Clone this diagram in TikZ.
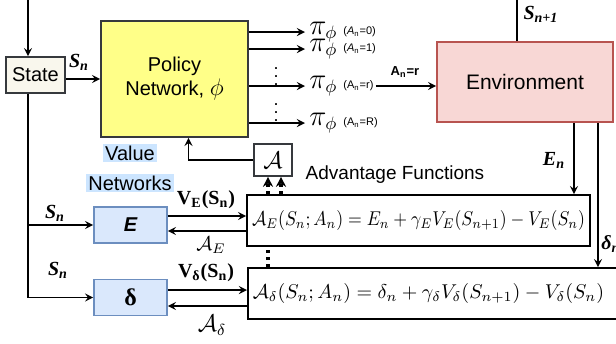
\documentclass[tikz,border=0pt]{standalone}
\usepackage{amsmath}
\usepackage{amssymb}
\usepackage{fontspec}
\setmainfont{Liberation Sans}
\newfontfamily\tms{Liberation Serif}
\usetikzlibrary{positioning}
\usetikzlibrary{arrows.meta}

\definecolor{polfill}{HTML}{FFFF88}
\definecolor{grayline}{HTML}{36393D}
\definecolor{statefill}{HTML}{F9F7ED}
\definecolor{envfill}{HTML}{F8D7D5}
\definecolor{envline}{HTML}{B85450}
\definecolor{valfill}{HTML}{DAE8FC}
\definecolor{valline}{HTML}{6C8EBF}
\definecolor{hl}{HTML}{CCE5FF}

\begin{document}
\begin{tikzpicture}[x=0.5pt,y=-0.5pt,
  box/.style={draw, line width=0.8pt, inner sep=0pt},
  eqbox/.style={draw, line width=0.8pt, fill=white, inner ysep=0pt, inner xsep=1pt, minimum height=25.5pt},
  arr/.style={-stealth, line width=0.8pt},
  dotarr/.style={-{Stealth[length=5pt,width=5pt]}, line width=1.6pt, dotted},
  lbl/.style={font=\tms\bfseries\itshape\normalsize, inner sep=1pt},
  tiny/.style={font=\fontsize{5.5}{6}\selectfont, inner sep=0pt}
]
\useasboundingbox (0,0) rectangle (616,343);

\node (S) [box, fill=statefill, draw=grayline, minimum width=29.5pt, minimum height=18pt] at (35.5,75) {State};
\node (P) [box, fill=polfill, draw=grayline, minimum width=73.5pt, minimum height=58pt, align=center, font=\fontsize{10}{12}\selectfont] at (174.5,79) {Policy\\Network, {\large$\phi$}};
\node (Env) [box, fill=envfill, draw=envline, minimum width=88pt, minimum height=40pt, font=\fontsize{10.5}{12}\selectfont] at (525,82) {Environment};
\node (A) [box, draw=grayline, minimum width=19pt, minimum height=16pt, font=\large] at (273,160) {$\mathcal{A}$};
\node (AF) [font=\fontsize{9.5}{11}\selectfont] at (395,175) {Advantage Functions};

\node (VE) [box, fill=valfill, draw=valline, minimum width=36.5pt, minimum height=18pt, font=\bfseries\itshape] at (130.5,225) {E};
\node (VD) [box, fill=valfill, draw=valline, minimum width=36.5pt, minimum height=18pt, font=\tms\bfseries\large] at (130.5,297.5) {δ};
\node (VL1) [fill=hl, inner sep=1pt] at (130,153) {Value};
\node (VL2) [fill=hl, inner sep=1pt] at (130,183) {Networks};

\node (EqE) [eqbox, minimum width=171.5pt] at (418.5,220.5)
  {\scalebox{0.885}[1]{$\mathcal{A}_E(S_n;A_n)=E_n+\gamma_E V_E(S_{n+1})-V_E(S_n)$}};
\node (EqD) [eqbox, anchor=west, inner xsep=2.5pt, text width=186.5pt, align=left] at (247,293.5)
  {$\mathcal{A}_\delta(S_n;A_n)=\delta_n+\gamma_\delta V_\delta(S_{n+1})-V_\delta(S_n)$};

% state loop
\coordinate (top) at (28,0);
\draw [arr] (top) -- (top |- S.north);
\draw [arr] (top |- S.south) |- (VD.west);
\draw [arr] (top |- VE.west) -- (VE.west);
\node [lbl] at (55,213) {S\textsubscript{n}};
\node [lbl] at (58,270) {S\textsubscript{n}};
\draw [arr] ([yshift=-2pt]S.east) -- ([yshift=-2pt]S.east -| P.west);
\node [lbl] at (79,62) {S\textsubscript{n}};

% policy outputs
\foreach \y/\n/\t in {32/0/{(\textit{A}\textsubscript{n}=0)}, 49/1/{(\textit{A}\textsubscript{n}=1)}, 86/r/{(A\textsubscript{n}=r)}, 123/R/{(A\textsubscript{n}=R)}} {
  \draw [arr] (P.east |- 0,\y) -- (305,\y);
  \node (pi\n) [anchor=west, inner sep=1pt] at (307,\y) {\Large$\pi_{\text{\fontsize{9}{9}\selectfont$\phi$}}$};
  \node (pa\n) [tiny, anchor=west] at (343,\y) {\t};
}
\node (d1) [inner sep=0pt, font=\small] at (276,71) {$\vdots$};
\node (d2) [inner sep=0pt, font=\small] at (276,107) {$\vdots$};
\draw [arr] ([xshift=1pt]par.east) -- (par.east -| Env.west);
\node [font=\bfseries\fontsize{6.5}{7}\selectfont] at (405,72) {A\textsubscript{n}=r};

% environment
\draw [line width=0.8pt] ([xshift=-4pt]Env.north) -- ([xshift=-4pt]Env.north |- top);
\node [lbl] at (541,14) {S\textsubscript{n+1}};
\draw [arr] (574,0 |- Env.south) -- (574,0 |- EqE.north);
\node [lbl] at (554,160) {E\textsubscript{n}};
\draw [arr] (598,0 |- Env.south) -- (598,0 |- EqD.north);
\node [lbl, anchor=west] at (599,244) {δ\textsubscript{n}};

% value networks
\draw [arr] ([yshift=4.5pt]VE.east) -- ([yshift=4.5pt]VE.east -| EqE.west);
\draw [arr] ([yshift=-3pt]VE.east -| EqE.west) -- ([yshift=-3pt]VE.east);
\node [font=\tms\bfseries] at (206,200) {V\textsubscript{E}(S\textsubscript{n})};
\node at (211,245) {$\mathcal{A}_E$};
\draw [arr] ([yshift=3.75pt]VD.east) -- ([yshift=3.75pt]VD.east -| EqD.west);
\draw [arr] ([yshift=-4.25pt]VD.east -| EqD.west) -- ([yshift=-4.25pt]VD.east);
\node [font=\tms\bfseries] at (206,273) {V\textsubscript{δ}(S\textsubscript{n})};
\node [font=\large] at (212,325) {$\mathcal{A}_\delta$};

% advantage feedback
\draw [arr] (A.west) -| ([xshift=7pt]P.south);
\draw [line width=1.6pt, dotted] ([xshift=-2.5pt]A.south |- EqD.north) -- ([xshift=-2.5pt]A.south |- EqE.south);
\draw [dotarr] ([xshift=-2.5pt]A.south |- EqE.north) -- ([xshift=-2.5pt]A.south);
\draw [dotarr] ([xshift=4pt]A.south |- EqE.north) -- ([xshift=4pt]A.south);
\end{tikzpicture}
\end{document}
